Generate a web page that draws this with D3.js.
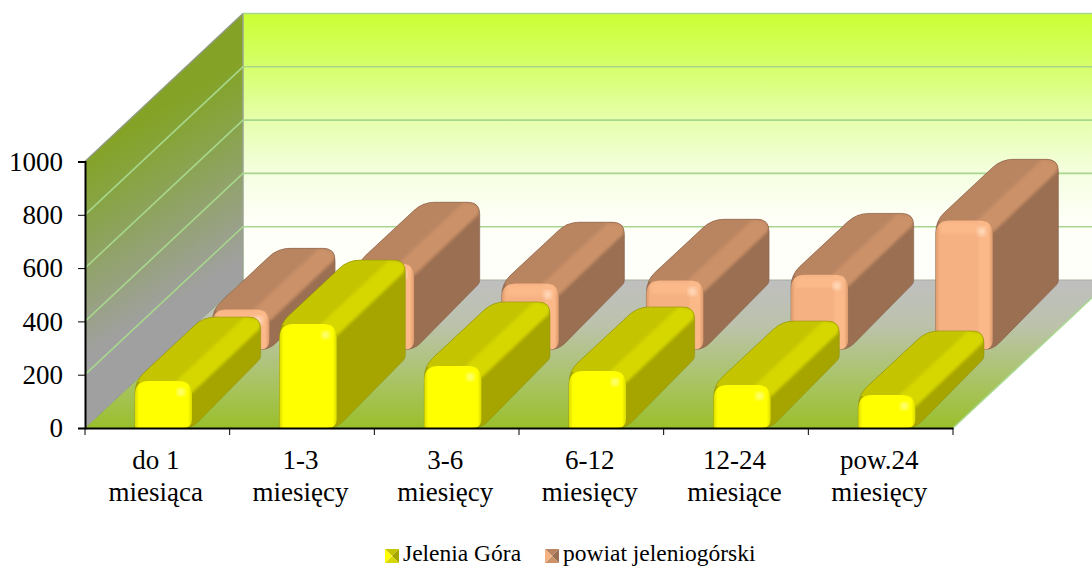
<!DOCTYPE html>
<html>
<head>
<meta charset="utf-8">
<script src="https://cdn.jsdelivr.net/npm/d3@7"></script>
<style>
  html, body { margin: 0; padding: 0; background: #fff; overflow: hidden; }
  svg { display: block; font-family: "Liberation Serif", serif; }
</style>
</head>
<body>
<div id="chart"></div>
<script>
// Chart values.
const categories = ['do 1|miesiąca', '1-3|miesięcy', '3-6|miesięcy', '6-12|miesięcy', '12-24|miesiące', 'pow.24|miesięcy'];
const jelenia_gora = [176, 390, 233, 214, 161, 124];
const powiat = [150, 323, 248, 259, 281, 484];
const y_ticks = [0, 200, 400, 600, 800, 1000];
const series_names = ['Jelenia Góra', 'powiat jeleniogórski'];

const width = 1092, height = 566;
const plot = { left: 85, right: 953, top: 161.5, bottom: 428 };
const wall = { dx: 158, dy: 148 };    // depth of the walls
const bar_depth = { dx: 146, dy: 148 };  // bars run a little steeper than the floor

const palettes = [
  { front: '#ffff00', edge: '#dcdc00', band: '#ffff00', glow: '#ffff80', top: '#c4c400', ridge: '#d6d600', side: '#a6a500', line: '#8f8f00', start: 0, end: 0.47 },
  { front: '#f5b182', edge: '#dc9a6c', band: '#fbb98a', glow: '#ffdcc0', top: '#b98561', ridge: '#cb9167', side: '#9b6f52', line: '#86604a', start: 0.53, end: 0.98 }
];

const svg = d3.select('#chart').append('svg')
  .attr('width', width)
  .attr('height', height);
const defs = svg.append('defs');

const x_scale = d3.scaleBand()
  .domain(categories)
  .range([plot.left, plot.right]);
const y_scale = d3.scaleLinear()
  .domain([0, 1000])
  .range([plot.bottom, plot.top]);

function linear_gradient(id, coords, stops) {
  const g = defs.append('linearGradient').attr('id', id)
    .attr('gradientUnits', 'userSpaceOnUse')
    .attr('x1', coords[0]).attr('y1', coords[1]).attr('x2', coords[2]).attr('y2', coords[3]);
  stops.forEach(s => g.append('stop').attr('offset', s[0]).attr('stop-color', s[1]));
}

linear_gradient('back_wall', [0, y_scale(1000) - wall.dy, 0, plot.bottom - wall.dy],
  [[0, '#ccff33'], [0.2, '#d6ff6b'], [0.4, '#e6ffac'], [0.6, '#f5ffe0'], [0.8, '#fffffa'], [1, '#fffffa']]);
linear_gradient('side_wall', [plot.left + 40, plot.top - 30, plot.left + 130, plot.bottom - 150],
  [[0, '#84a326'], [0.3, '#88a448'], [1, '#a0a0a0']]);
linear_gradient('floor', [0, plot.bottom - wall.dy, 0, plot.bottom],
  [[0, '#bfbfbf'], [0.3, '#bcc2ac'], [0.65, '#abc46b'], [1, '#9abf2b']]);

defs.append('filter').attr('id', 'soft').append('feGaussianBlur').attr('stdDeviation', 1.6);
defs.append('filter').attr('id', 'softer').append('feGaussianBlur').attr('stdDeviation', 2.2);

// Walls and floor.
const floor_y = plot.bottom - wall.dy;
svg.append('path')
  .attr('d', d3.line()([[plot.left, y_scale(1000)], [plot.left + wall.dx, y_scale(1000) - wall.dy], [plot.left + wall.dx, floor_y], [plot.left, plot.bottom]]) + 'Z')
  .attr('fill', 'url(#side_wall)');
svg.append('rect')
  .attr('x', plot.left + wall.dx).attr('y', y_scale(1000) - wall.dy)
  .attr('width', width - plot.left - wall.dx).attr('height', plot.bottom - y_scale(1000))
  .attr('fill', 'url(#back_wall)');
svg.append('path')
  .attr('d', d3.line()([[plot.left, plot.bottom], [plot.left + wall.dx, floor_y], [plot.right + wall.dx, floor_y], [plot.right, plot.bottom]]) + 'Z')
  .attr('fill', 'url(#floor)');

// Wall edges.
svg.append('path')
  .attr('d', d3.line()([[plot.left, y_scale(1000)], [plot.left + wall.dx, y_scale(1000) - wall.dy]]))
  .attr('stroke', '#8f9a80').attr('stroke-width', 1.5).attr('fill', 'none');
svg.append('path')
  .attr('d', d3.line()([[plot.left + wall.dx, y_scale(1000) - wall.dy], [plot.left + wall.dx, floor_y]]))
  .attr('stroke', '#9aa58f').attr('stroke-width', 1.5).attr('fill', 'none');
svg.append('path')
  .attr('d', d3.line()([[plot.left, plot.bottom], [plot.left + wall.dx, floor_y]]))
  .attr('stroke', '#8f9a88').attr('stroke-width', 1).attr('fill', 'none');
svg.append('path')
  .attr('d', d3.line()([[plot.right, plot.bottom], [plot.right + wall.dx, floor_y]]))
  .attr('stroke', '#a9d88e').attr('stroke-width', 1.5).attr('fill', 'none');
svg.append('line')
  .attr('x1', plot.left + wall.dx).attr('x2', width).attr('y1', floor_y).attr('y2', floor_y)
  .attr('stroke', '#a6b09c').attr('stroke-width', 1);

// Gridlines on both walls.
y_ticks.filter(t => t > 0).forEach(t => {
  const y = y_scale(t);
  svg.append('path')
    .attr('d', d3.line()([[plot.left, y], [plot.left + wall.dx, y - wall.dy], [width, y - wall.dy]]))
    .attr('fill', 'none')
    .attr('stroke', '#a7d78c')
    .attr('stroke-width', t === 1000 ? 0 : 1.6);
});
svg.append('line')
  .attr('x1', plot.left + wall.dx).attr('x2', width)
  .attr('y1', y_scale(1000) - wall.dy).attr('y2', y_scale(1000) - wall.dy)
  .attr('stroke', '#a7d78c').attr('stroke-width', 1.6);

// Polygon with rounded corners; radii may differ per corner.
function rounded_path(pts, radii) {
  const p = d3.path();
  pts.forEach((c, i) => {
    const prev = pts[(i + pts.length - 1) % pts.length];
    const next = pts[(i + 1) % pts.length];
    const r = radii[i];
    const d1 = Math.hypot(prev[0] - c[0], prev[1] - c[1]);
    const d2 = Math.hypot(next[0] - c[0], next[1] - c[1]);
    const a = [c[0] + (prev[0] - c[0]) * r / d1, c[1] + (prev[1] - c[1]) * r / d1];
    const b = [c[0] + (next[0] - c[0]) * r / d2, c[1] + (next[1] - c[1]) * r / d2];
    if (i === 0) p.moveTo(a[0], a[1]); else p.lineTo(a[0], a[1]);
    p.quadraticCurveTo(c[0], c[1], b[0], b[1]);
  });
  p.closePath();
  return p.toString();
}

const bar_width = 57;
const bar_offset = 50;

// One rounded 3D bar.
function draw_bar(category, value, pal, id) {
  const x0 = x_scale(category) + bar_offset + pal.start * bar_depth.dx;
  const x1 = x0 + bar_width;
  const base = y_scale(0) - pal.start * bar_depth.dy;
  const top = base - (y_scale(0) - y_scale(value));
  const dx = (pal.end - pal.start) * bar_depth.dx;
  const dy = (pal.end - pal.start) * bar_depth.dy;
  const top_dy = dy * 0.92;   // the top edge recedes less than the bottom
  const g = svg.append('g');

  const outline = rounded_path(
    [[x0, base], [x0, top], [x0 + dx, top - top_dy], [x1 + dx, top - top_dy], [x1 + dx, base - dy], [x1, base]],
    [1, 12, 12, 12, 3, 9]);
  defs.append('clipPath').attr('id', 'clip_' + id).append('path').attr('d', outline);
  g.append('path').attr('d', outline).attr('fill', pal.side);

  const inner = g.append('g').attr('clip-path', 'url(#clip_' + id + ')');
  // Top face.
  inner.append('path')
    .attr('d', d3.line()([[x0 - 4, top], [x0 + dx - 4, top - top_dy - 4], [x1 + dx + 2, top - top_dy - 4], [x1 + dx, top - top_dy + 8], [x1, top + 8]]) + 'Z')
    .attr('fill', pal.top);
  // Lighter ridge between the top and the side.
  inner.append('path')
    .attr('d', d3.line()([[x1 - 16, top], [x1 + dx - 16, top - top_dy], [x1 + dx - 1, top - top_dy + 3], [x1 + dx - 1, top - top_dy + 12], [x1, top + 12]]) + 'Z')
    .attr('fill', pal.ridge)
    .attr('filter', 'url(#soft)');
  g.append('path').attr('d', outline).attr('fill', 'none').attr('stroke', pal.line).attr('stroke-width', 0.8).attr('stroke-opacity', 0.7);

  // Front face.
  const fid = 'front_' + id;
  linear_gradient(fid, [x0, 0, x1, 0], [[0, pal.edge], [0.07, pal.front], [0.74, pal.front], [0.78, pal.band], [0.93, pal.band], [1, pal.edge]]);
  const front = rounded_path([[x0, base], [x0, top], [x1, top], [x1, base]], [1, 14, 14, 9]);
  g.append('path').attr('d', front).attr('fill', 'url(#' + fid + ')');
  g.append('rect')
    .attr('x', x0 + 5).attr('y', top + 2).attr('width', bar_width - 10).attr('height', 11)
    .attr('fill', pal.band).attr('filter', 'url(#soft)');
  g.append('circle')
    .attr('cx', x1 - 11).attr('cy', top + 11).attr('r', 4)
    .attr('fill', pal.glow).attr('filter', 'url(#softer)');
}

// Back row first so the front row overlaps it.
[powiat, jelenia_gora].forEach((values, s) => {
  const pal = palettes[1 - s];
  values.forEach((v, i) => draw_bar(categories[i], v, pal, s + '_' + i));
});

// Axes.
const y_axis = svg.append('g')
  .attr('transform', 'translate(' + plot.left + ',0)')
  .call(d3.axisLeft(y_scale).tickValues(y_ticks).tickSize(7).tickPadding(15).tickFormat(d3.format('d')));
const x_axis = svg.append('g')
  .attr('transform', 'translate(0,' + plot.bottom + ')')
  .call(d3.axisBottom(x_scale).tickSize(0).tickFormat(''));

y_axis.select('.domain').attr('stroke', '#000').attr('stroke-width', 2);
x_axis.select('.domain').attr('stroke', '#000').attr('stroke-width', 2);
y_axis.selectAll('.tick line').attr('stroke', '#000').attr('stroke-width', 1);
y_axis.selectAll('text')
  .attr('fill', '#000')
  .style('font-family', '"Liberation Serif", serif')
  .style('font-size', '27px');

// Category separators on the x axis.
x_axis.selectAll('.boundary')
  .data(categories.concat(['end']))
  .enter().append('line')
  .attr('x1', d => d === 'end' ? plot.right : x_scale(d))
  .attr('x2', d => d === 'end' ? plot.right : x_scale(d))
  .attr('y1', 0).attr('y2', 7)
  .attr('stroke', '#000');

// Two line category labels.
const labels = svg.append('g')
  .attr('text-anchor', 'middle')
  .style('font-size', '27px')
  .attr('fill', '#000');
categories.forEach(c => {
  const t = labels.append('text');
  c.split('|').forEach((line, i) => {
    t.append('tspan')
      .attr('x', x_scale(c) + x_scale.bandwidth() / 2 - 1.5)
      .attr('y', 469 + i * 32)
      .text(line);
  });
});

// Legend with bevelled swatches.
const legend_x = [385, 545];
series_names.forEach((name, i) => {
  const pal = palettes[i];
  const x = legend_x[i], y = 549, s = 14;
  const g = svg.append('g');
  const c = [x + s / 2, y + s / 2];
  const faces = [
    [[x, y], [x + s, y], c, pal.top],
    [[x + s, y], [x + s, y + s], c, pal.side],
    [[x + s, y + s], [x, y + s], c, pal.ridge],
    [[x, y + s], [x, y], c, pal.front]
  ];
  faces.forEach(f => {
    g.append('path').attr('d', d3.line()(f.slice(0, 3)) + 'Z').attr('fill', f[3]);
  });
  svg.append('text')
    .attr('x', x + s + 4).attr('y', 560.5)
    .style('font-size', '23.5px')
    .attr('fill', '#000')
    .text(name);
});
</script>
</body>
</html>
